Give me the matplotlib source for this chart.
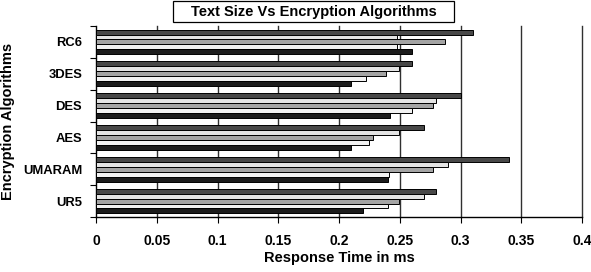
import numpy as np
import matplotlib
matplotlib.use('Agg')
import matplotlib.pyplot as plt
from matplotlib.patches import Rectangle
from matplotlib.ticker import FixedLocator

plt.rcParams['font.family'] = ['Liberation Sans', 'DejaVu Sans']

algorithms = ['RC6', '3DES', 'DES', 'AES', 'UMARAM', 'UR5']
# five text sizes per algorithm, top to bottom inside each group
series_1 = [0.310, 0.260, 0.300, 0.270, 0.340, 0.280]
series_2 = [0.248, 0.249, 0.280, 0.249, 0.290, 0.270]
series_3 = [0.287, 0.239, 0.277, 0.228, 0.277, 0.249]
series_4 = [0.248, 0.222, 0.260, 0.225, 0.241, 0.240]
series_5 = [0.260, 0.210, 0.242, 0.210, 0.240, 0.220]
x_ticks = [0, 0.05, 0.1, 0.15, 0.2, 0.25, 0.3, 0.35, 0.4]
x_labels = ['0', '0.05', '0.1', '0.15', '0.2', '0.25', '0.3', '0.35', '0.4']

series = [series_1, series_2, series_3, series_4, series_5]
colors = ['#484848', '#e4e4e4', '#a4a4a4', '#f2f2f2', '#1c1c1c']

W, H = 591, 272
fig = plt.figure(figsize=(W / 100, H / 100), dpi=100)
ax = fig.add_axes([96 / W, 1 - 217 / H, 486 / W, 191 / H])

n = len(algorithms)
h = 0.155
y = np.arange(n)
for i, (vals, c) in enumerate(zip(series, colors)):
    ax.barh(y - 2 * h + i * h, vals, height=h, color=c, edgecolor='black',
            linewidth=0.7, zorder=3)

ax.set_xlim(0, 0.4)
ax.set_ylim(n - 0.5, -0.5)
ax.set_xticks(x_ticks)
ax.set_xticklabels(x_labels, fontsize=10, fontweight='bold')
for xt in x_ticks[1:]:
    ax.axvline(xt, color='#303030', lw=1.0, zorder=0, clip_on=False)

# group boundary ticks as major, labels at group centres
ax.yaxis.set_major_locator(FixedLocator(np.arange(n + 1) - 0.5))
ax.yaxis.set_major_formatter(plt.NullFormatter())
ax.yaxis.set_minor_locator(FixedLocator(y))
ax.set_yticklabels(algorithms, minor=True, fontsize=9.4, fontweight='bold')
ax.tick_params(axis='y', which='minor', length=0, pad=10)
ax.tick_params(axis='y', which='major', length=4)
ax.tick_params(axis='x', length=4, pad=8)

for s in ['top', 'right']:
    ax.spines[s].set_visible(False)
ax.spines['left'].set_linewidth(1.0)
ax.spines['bottom'].set_linewidth(1.0)

ax.set_xlabel('Response Time in ms', fontsize=10.5, fontweight='bold')
ax.xaxis.set_label_coords(0.5, -(251 - 217) / 191)
ax.set_ylabel('Encryption Algorithms', fontsize=10.5, fontweight='bold')
ax.yaxis.set_label_coords(-(96 - 15) / 486, 0.5)

# boxed title
fig.patches.append(Rectangle((173 / W, 1 - 22 / H), 281 / W, 21 / H,
                             transform=fig.transFigure, fc='white', ec='black',
                             lw=0.9))
fig.text(313.5 / W, 1 - 12 / H, 'Text Size Vs Encryption Algorithms',
         ha='center', va='center', fontsize=10.5, fontweight='bold')

fig.savefig('out.png', dpi=100)
